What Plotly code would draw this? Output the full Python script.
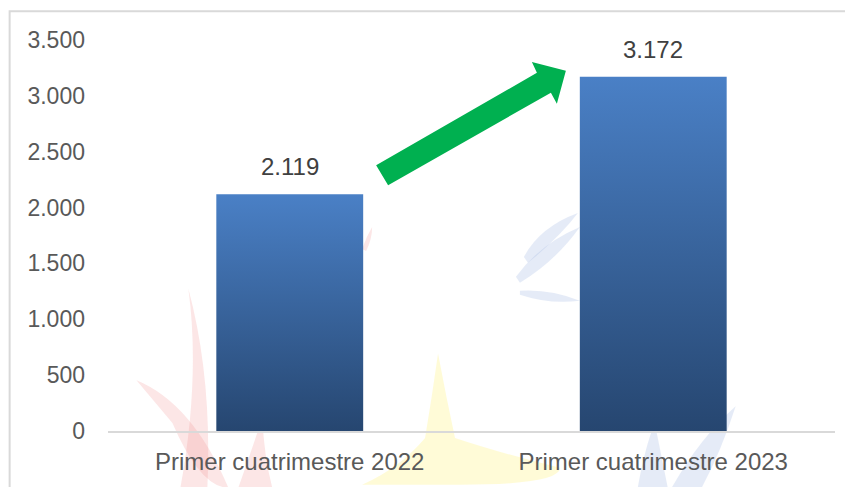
import plotly.graph_objects as go

categories = ["Primer cuatrimestre 2022", "Primer cuatrimestre 2023"]
values = [2119, 3172]
y_ticks = [0, 500, 1000, 1500, 2000, 2500, 3000, 3500]

# the page body has an 8px margin; the figure is sized/offset to compensate
OFF = 8
W, H = 853 - OFF, 487 - OFF
ML, MR, MT, MB = 107.5 - OFF, 17.5, 40 - OFF, 54
PW = W - ML - MR
PH = H - MT - MB


def px2paper(px, py):
    return (px - OFF - ML) / PW, (H - MB - (py - OFF)) / PH


def path_from_px(points):
    parts = []
    for i, (px, py) in enumerate(points):
        x, y = px2paper(px, py)
        parts.append(("M" if i == 0 else "L") + f"{x:.5f},{y:.5f}")
    return " ".join(parts) + " Z"


def curve_from_px(points):
    x0, y0 = px2paper(*points[0])
    s = f"M{x0:.5f},{y0:.5f}"
    rest = points[1:]
    for i in range(0, len(rest) - 1, 2):
        cx, cy = px2paper(*rest[i])
        ex, ey = px2paper(*rest[i + 1])
        s += f" Q{cx:.5f},{cy:.5f} {ex:.5f},{ey:.5f}"
    return s + " Z"


fig = go.Figure()

half = 0.202
for i, v in enumerate(values):
    fig.add_trace(go.Scatter(
        x=[i - half, i + half, i + half, i - half, i - half],
        y=[0, 0, v, v, 0],
        mode="lines",
        line=dict(width=0, color="rgba(0,0,0,0)"),
        fill="toself",
        fillgradient=dict(type="vertical",
                          colorscale=[[0, "#264670"], [1, "#4a80c6"]]),
        hoverinfo="skip",
        showlegend=False,
    ))
    fig.add_annotation(
        x=i, y=v, xref="x", yref="y",
        text=f"{v:,}".replace(",", "."),
        showarrow=False, yanchor="bottom", yshift=12,
        font=dict(family="Liberation Sans, Arial", size=24, color="#404040"),
    )

shapes = []
# faint watermark shapes (background decoration)
red = "rgba(240,130,130,0.20)"
yellow = "rgba(255,240,110,0.28)"
blue = "rgba(150,175,225,0.25)"
wm = [
    (red, [(180, 490), (200, 380), (188, 290), (212, 380), (207, 490)]),
    (red, [(136, 382), (192, 405), (228, 490), (200, 490), (172, 425), (136, 382)]),
    (red, [(238, 490), (252, 450), (262, 420), (264, 460), (272, 490)]),
    (red, [(362, 250), (366, 238), (372, 228), (372, 240), (366, 252)]),
    (yellow, [(362, 487), (400, 470), (425, 440), (432, 398), (438, 355), (446, 398), (455, 440), (500, 455), (560, 470), (560, 487), (460, 487)]),
    (blue, [(516, 278), (540, 245), (580, 228), (556, 262), (520, 284)]),
    (blue, [(524, 258), (540, 228), (578, 214), (560, 238), (528, 264)]),
    (blue, [(520, 292), (550, 290), (580, 302), (550, 306), (520, 296)]),
    (blue, [(638, 490), (645, 450), (655, 425), (662, 460), (668, 490)]),
    (blue, [(672, 490), (700, 440), (736, 408), (722, 452), (702, 490)]),
]
for color, pts in wm:
    shapes.append(dict(type="path", xref="paper", yref="paper",
                       path=curve_from_px(pts), fillcolor=color,
                       line=dict(width=0), layer="below"))

# frame border
bx0, by0 = px2paper(9, 11)
bx1, by1 = px2paper(870, 500)
shapes.append(dict(type="rect", xref="paper", yref="paper",
                   x0=bx0, y0=by1, x1=bx1, y1=by0,
                   line=dict(color="#d9d9d9", width=2), layer="below"))

# green arrow
arrow_px = [(376, 166), (537, 73), (532, 62), (566, 71), (557, 104), (551, 93), (388, 186)]
shapes.append(dict(type="path", xref="paper", yref="paper",
                   path=path_from_px(arrow_px), fillcolor="#00b050",
                   line=dict(width=0), layer="above"))

fig.update_layout(
    width=W, height=H,
    margin=dict(l=ML, r=MR, t=MT, b=MB, pad=0),
    paper_bgcolor="white", plot_bgcolor="rgba(0,0,0,0)",
    separators=",.",
    showlegend=False,
    shapes=shapes,
    font=dict(family="Liberation Sans, Arial", size=23, color="#595959"),
    xaxis=dict(
        range=[-0.5, 1.5], tickmode="array", tickvals=list(range(len(categories))),
        ticktext=categories, showgrid=False, zeroline=False,
        showline=True, linecolor="#d9d9d9", linewidth=2,
        ticks="", ticklabelstandoff=8, fixedrange=True,
        tickfont=dict(size=24, color="#595959"),
    ),
    yaxis=dict(
        range=[0, 3500], tickmode="array", tickvals=y_ticks,
        ticktext=[f"{t:,}".replace(",", ".") for t in y_ticks],
        showgrid=False, zeroline=False, showline=False,
        ticks="", ticklabelstandoff=22, fixedrange=True,
        tickfont=dict(size=23, color="#595959"),
    ),
)

fig.write_html("out.html")
